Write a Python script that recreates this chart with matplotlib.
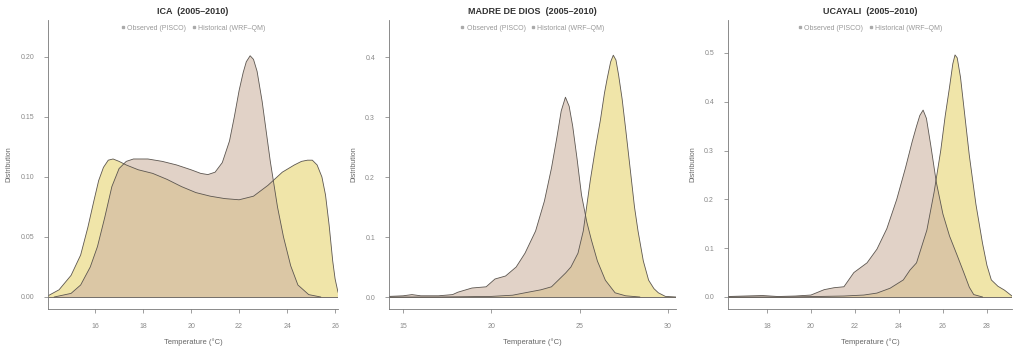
import matplotlib.pyplot as plt
from matplotlib.lines import Line2D

plt.rcParams["font.family"] = ["Liberation Sans", "DejaVu Sans"]

# ICA: temperature grid and density of each source
ica_obs_x = [14.3, 15.0, 15.4, 15.8, 16.1, 16.4, 16.7, 17.0, 17.3, 17.6, 18.2, 18.8,
             19.4, 20.0, 20.4, 20.7, 21.0, 21.3, 21.6, 21.8, 22.0, 22.17, 22.3, 22.46,
             22.6, 22.75, 22.96, 23.15, 23.3, 23.6, 23.85, 24.15, 24.45, 24.9, 25.4]
ica_obs_y = [0.000, 0.003, 0.010, 0.025, 0.042, 0.066, 0.092, 0.107, 0.113, 0.115,
             0.115, 0.113, 0.110, 0.106, 0.103, 0.102, 0.104, 0.112, 0.130, 0.150,
             0.172, 0.187, 0.196, 0.201, 0.198, 0.188, 0.163, 0.135, 0.113, 0.075,
             0.050, 0.026, 0.010, 0.002, 0.000]
ica_hist_x = [14.04, 14.5, 15.0, 15.4, 15.7, 15.95, 16.15, 16.35, 16.55, 16.75, 17.0, 17.3,
              17.8, 18.4, 19.0, 19.6, 20.2, 20.8, 21.4, 22.0, 22.6, 23.2, 23.8, 24.3,
              24.6, 24.85, 25.05, 25.25, 25.45, 25.6, 25.75, 25.9, 26.0, 26.12]
ica_hist_y = [0.001, 0.006, 0.018, 0.035, 0.058, 0.080, 0.097, 0.108, 0.114, 0.115,
              0.113, 0.110, 0.106, 0.103, 0.098, 0.092, 0.087, 0.084, 0.082, 0.081,
              0.084, 0.093, 0.104, 0.110, 0.113, 0.114, 0.114, 0.110, 0.100, 0.085,
              0.060, 0.030, 0.015, 0.004]

# MADRE DE DIOS
mdd_obs_x = [14.2, 15.0, 15.5, 16.0, 17.0, 17.8, 18.1, 18.9, 19.7, 20.2, 20.8, 21.4,
             21.9, 22.5, 23.0, 23.4, 23.7, 23.95, 24.19, 24.4, 24.6, 24.85, 25.1, 25.4,
             25.66, 26.0, 26.45, 27.0, 27.6, 28.4]
mdd_obs_y = [0.001, 0.002, 0.004, 0.002, 0.002, 0.004, 0.008, 0.015, 0.017, 0.030,
             0.035, 0.050, 0.073, 0.110, 0.160, 0.215, 0.265, 0.310, 0.333, 0.318,
             0.285, 0.230, 0.170, 0.125, 0.095, 0.060, 0.028, 0.007, 0.002, 0.000]
mdd_hist_x = [14.2, 17.0, 20.0, 21.2, 21.9, 22.8, 23.4, 24.2, 24.5, 24.9, 25.2, 25.6,
              25.9, 26.17, 26.4, 26.56, 26.75, 26.9, 27.05, 27.2, 27.4, 27.6, 27.87,
              28.1, 28.3, 28.6, 28.9, 29.2, 29.45, 29.85, 30.45]
mdd_hist_y = [0.000, 0.000, 0.001, 0.003, 0.007, 0.012, 0.017, 0.040, 0.050, 0.073,
              0.110, 0.195, 0.250, 0.295, 0.340, 0.365, 0.392, 0.403, 0.395, 0.370,
              0.330, 0.280, 0.210, 0.150, 0.110, 0.060, 0.028, 0.014, 0.007, 0.001,
              0.000]

# UCAYALI
uca_obs_x = [16.23, 17.0, 17.8, 18.5, 19.3, 20.0, 20.6, 21.05, 21.5, 21.95, 22.55, 23.0,
             23.45, 23.9, 24.3, 24.6, 24.8, 24.95, 25.1, 25.25, 25.45, 25.7, 26.0, 26.3,
             26.65, 26.95, 27.2, 27.4, 27.8]
uca_obs_y = [0.001, 0.002, 0.003, 0.001, 0.002, 0.004, 0.015, 0.019, 0.021, 0.050,
             0.070, 0.098, 0.140, 0.200, 0.265, 0.318, 0.350, 0.372, 0.383, 0.366,
             0.310, 0.235, 0.170, 0.125, 0.085, 0.050, 0.020, 0.005, 0.000]
uca_hist_x = [16.23, 19.0, 21.5, 22.4, 23.0, 23.6, 24.2, 24.5, 24.8, 25.27, 25.6, 25.9,
              26.1, 26.3, 26.45, 26.55, 26.65, 26.8, 27.0, 27.2, 27.5, 27.8, 28.0, 28.2,
              28.5, 28.8, 29.14]
uca_hist_y = [0.000, 0.000, 0.002, 0.004, 0.008, 0.018, 0.035, 0.055, 0.070, 0.137,
              0.215, 0.300, 0.370, 0.430, 0.478, 0.496, 0.490, 0.450, 0.370, 0.290,
              0.190, 0.110, 0.065, 0.035, 0.022, 0.014, 0.002]

titles = ["ICA  (2005\u20132010)", "MADRE DE DIOS  (2005\u20132010)", "UCAYALI  (2005\u20132010)"]
series_names = ["Observed (PISCO)", "Historical (WRF\u2013QM)"]

panels = [
    (ica_obs_x, ica_obs_y, ica_hist_x, ica_hist_y),
    (mdd_obs_x, mdd_obs_y, mdd_hist_x, mdd_hist_y),
    (uca_obs_x, uca_obs_y, uca_hist_x, uca_hist_y),
]
xticks = [[16, 18, 20, 22, 24, 26], [15, 20, 25, 30], [18, 20, 22, 24, 26, 28]]
yticks = [[0.00, 0.05, 0.10, 0.15, 0.20], [0.0, 0.1, 0.2, 0.3, 0.4],
          [0.0, 0.1, 0.2, 0.3, 0.4, 0.5]]
yfmt = ["{:.2f}", "{:.1f}", "{:.1f}"]
xlims = [(14.04, 26.12), (14.2, 30.45), (16.23, 29.14)]
ylims = [(-0.010, 0.2308), (-0.020, 0.4617), (-0.0246, 0.5676)]
# left/right edges of each plot region in pixels
edges = [(48, 338), (389, 676), (728, 1012)]

W, H = 1014, 352
obs_color = "#CDB4A3"
hist_color = "#E6D571"
line_color = "#5c5650"
text_grey = "#8a8a8a"

fig = plt.figure(figsize=(W / 100, H / 100), dpi=100)

for i, (ox, oy, hx, hy) in enumerate(panels):
    l, r = edges[i]
    ax = fig.add_axes([l / W, 1 - 309 / H, (r - l) / W, 289 / H])

    ax.fill_between(hx, hy, 0, facecolor=hist_color, alpha=0.6, edgecolor="none")
    ax.fill_between(ox, oy, 0, facecolor=obs_color, alpha=0.6, edgecolor="none")
    ax.plot(hx, hy, color=line_color, lw=0.6)
    ax.plot(ox, oy, color=line_color, lw=0.6)
    ax.axhline(0, color=line_color, lw=0.6)

    ax.set_xlim(*xlims[i])
    ax.set_ylim(*ylims[i])
    for s in ["top", "right"]:
        ax.spines[s].set_visible(False)
    for s in ["left", "bottom"]:
        ax.spines[s].set_color("#777777")
        ax.spines[s].set_linewidth(0.6)

    ax.set_xticks(xticks[i])
    ax.set_xticklabels([str(t) for t in xticks[i]])
    ax.set_yticks(yticks[i])
    ax.set_yticklabels([yfmt[i].format(t) for t in yticks[i]])
    ax.tick_params(axis="both", length=3, width=0.5, color="#777777",
                   labelsize=5, labelcolor=text_grey)
    ax.tick_params(axis="x", pad=7)
    ax.tick_params(axis="y", pad=7)

    ax.set_xlabel("Temperature (\u00b0C)", fontsize=5.5, color="#666666", labelpad=6)
    ax.set_ylabel("Distribution", fontsize=5, color="#666666", labelpad=6)

    ax.text(0.5, 1.028, titles[i], transform=ax.transAxes, ha="center", va="center",
            fontsize=6.5, fontweight="bold", color="#333333")

    handles = [Line2D([], [], marker="s", ls="", color="#aaaaaa", markersize=2)
               for _ in series_names]
    ax.legend(handles, series_names, loc="center", bbox_to_anchor=(0.5, 0.972),
              ncol=2, frameon=False, fontsize=5, labelcolor="#999999",
              handlelength=0.6, handletextpad=0.3, columnspacing=0.8)

fig.savefig("out.png", dpi=100)
plt.close(fig)
